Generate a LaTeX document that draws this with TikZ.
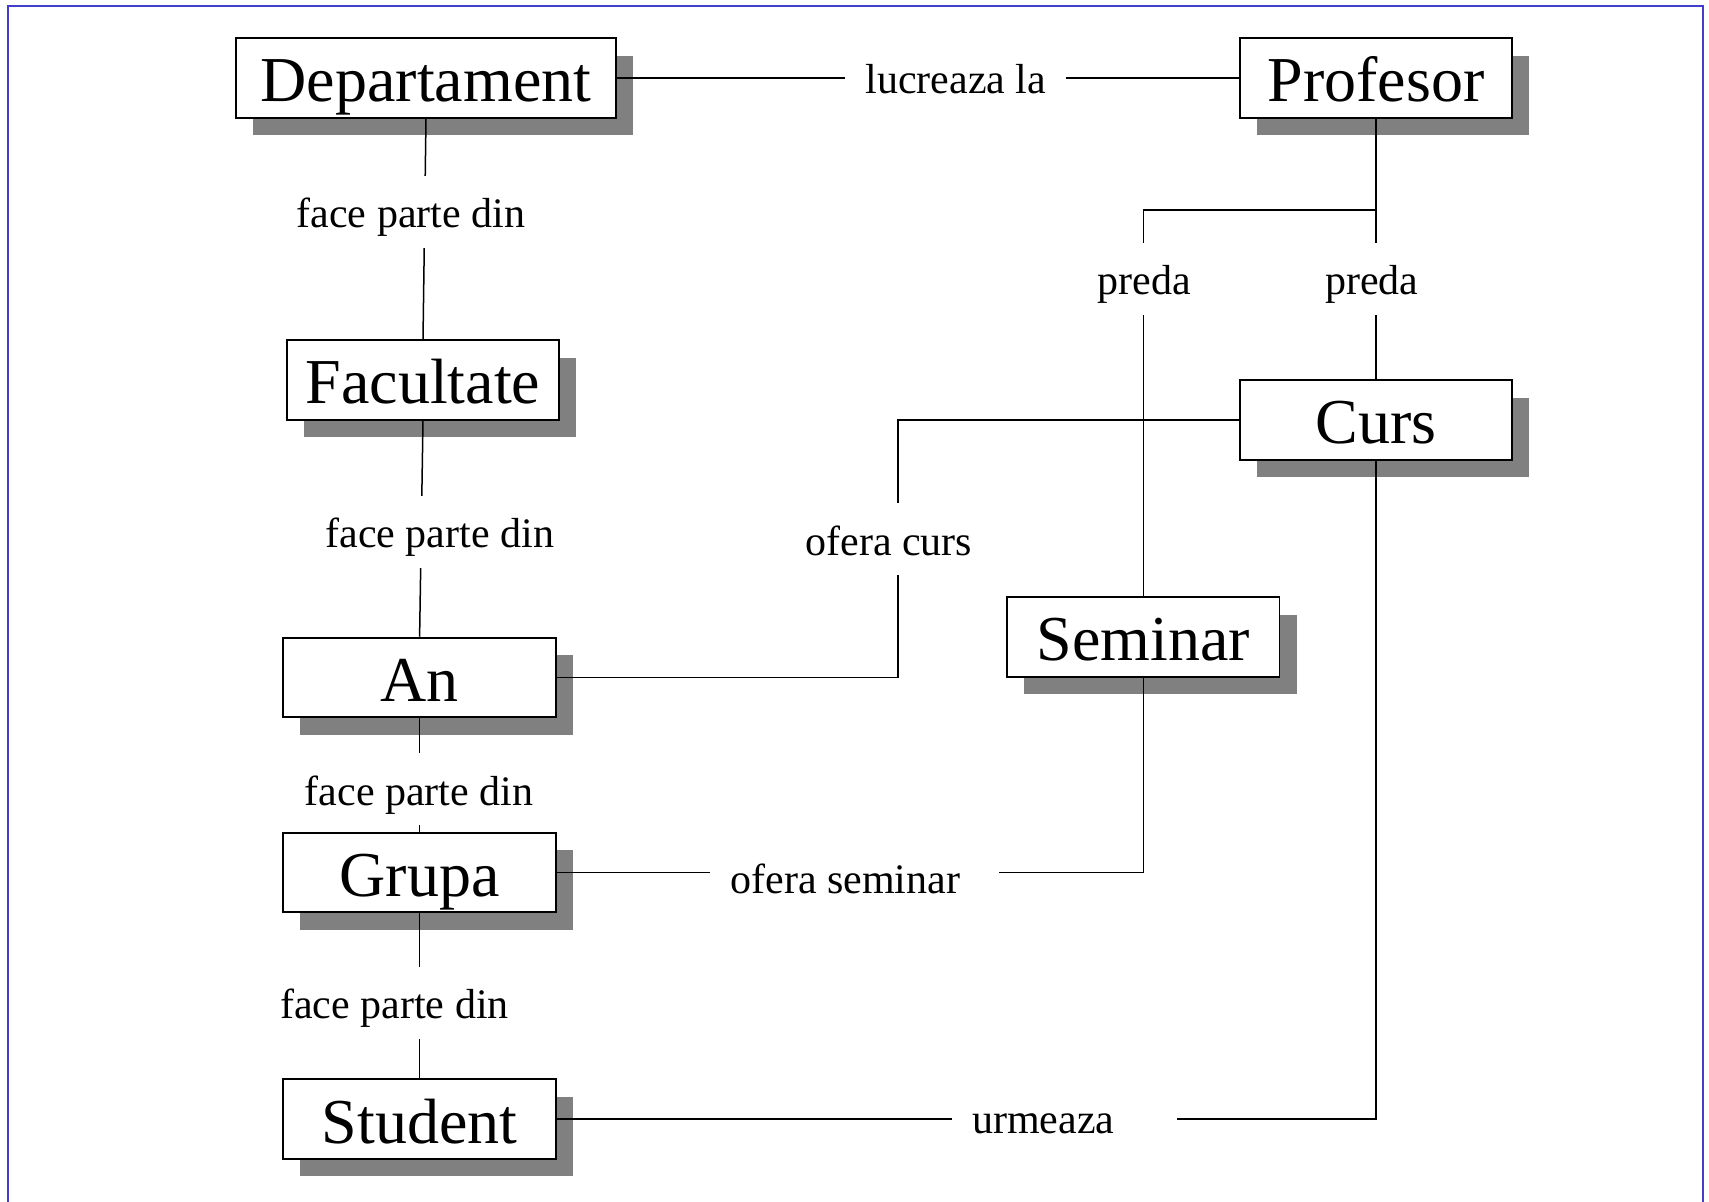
\documentclass[tikz,border=0pt]{standalone}
\usepackage{fontspec}
\setmainfont{Liberation Serif}
\usetikzlibrary{shadows}
\definecolor{framecol}{RGB}{64,64,204}
\definecolor{shadowgray}{RGB}{128,128,128}
\begin{document}
\begin{tikzpicture}[x=0.5pt,y=-0.5pt,
  entity/.style={draw=black, line width=0.9pt, fill=white,
    minimum width=136.25pt, minimum height=39.75pt,
    inner xsep=0pt, inner ysep=0pt, text height=24pt, text depth=0pt,
    font=\fontsize{32}{38}\selectfont,
    drop shadow={shadow xshift=8.5pt, shadow yshift=-8.7pt, opacity=1, fill=shadowgray, draw=none}},
  link/.style={draw=black, line width=0.75pt},
  rel/.style={fill=white, inner xsep=10pt, inner ysep=0pt,
    text height=26pt, text depth=10pt,
    font=\fontsize{21}{25}\selectfont},
]
\useasboundingbox (0,0) rectangle (1709,1202);
% page frame, open at the bottom
\draw[framecol, line width=1pt] (8,1204) -- (8,6) -- (1703,6) -- (1703,1204);

% entities
\node[entity, minimum width=190pt] (dep) at (426,78) {Departament};
\node[entity] (prof) at (1376,78) {Profesor};
\node[entity] (fac)  at (423,380) {Facultate};
\node[entity] (curs) at (1376,420) {Curs};
\node[entity] (an)   at (419.6,677.4) {An};
\node[entity] (sem)  at (1143.3,637) {Seminar};
\node[entity] (grp)  at (419.6,872.5) {Grupa};
\node[entity] (stu)  at (419.6,1119) {Student};

% routing points
\coordinate (pj) at (1376,210);
\coordinate (ocx) at (898,500);

% relationships
\draw[link] (dep.east) -- (prof.west);
\draw[link] (dep.south) -- (fac.north);
\draw[link] (fac.south) -- (an.north);
\draw[link] (an.south) -- (grp.north);
\draw[link] (grp.south) -- (stu.north);
\draw[link] (prof.south) -- (pj) -| (sem.north);
\draw[link] (pj) -- (curs.north);
\draw[link] (curs.west) -| (ocx |- an.east) -- (an.east);
\draw[link] (sem.south) |- (grp.east);
\draw[link] (curs.south) |- (stu.east);

% relationship names
\node[rel, anchor=base west] (l1) at (845,93.3) {lucreaza la};
\node[rel, anchor=base] (l2) at (410.9,227.7) {face parte din};
\node[rel, anchor=base] (l3) at (439.8,547.8) {face parte din};
\node[rel, anchor=base] (l4) at (419.1,805.1) {face parte din};
\node[rel, anchor=base] (l5) at (394.5,1018.7) {face parte din};
\node[rel, anchor=base] (l6) at (1144,295) {preda};
\node[rel, anchor=base] (l7) at (1371.7,295) {preda};
\node[rel, anchor=base] (l8) at (888.8,555.5) {ofera curs};
\node[rel, anchor=base west] (l9) at (710,894) {ofera seminar\kern9.35pt};
\node[rel, anchor=base west] (l10) at (951.7,1133.3) {urmeaza\kern21.5pt};
\end{tikzpicture}
\end{document}
